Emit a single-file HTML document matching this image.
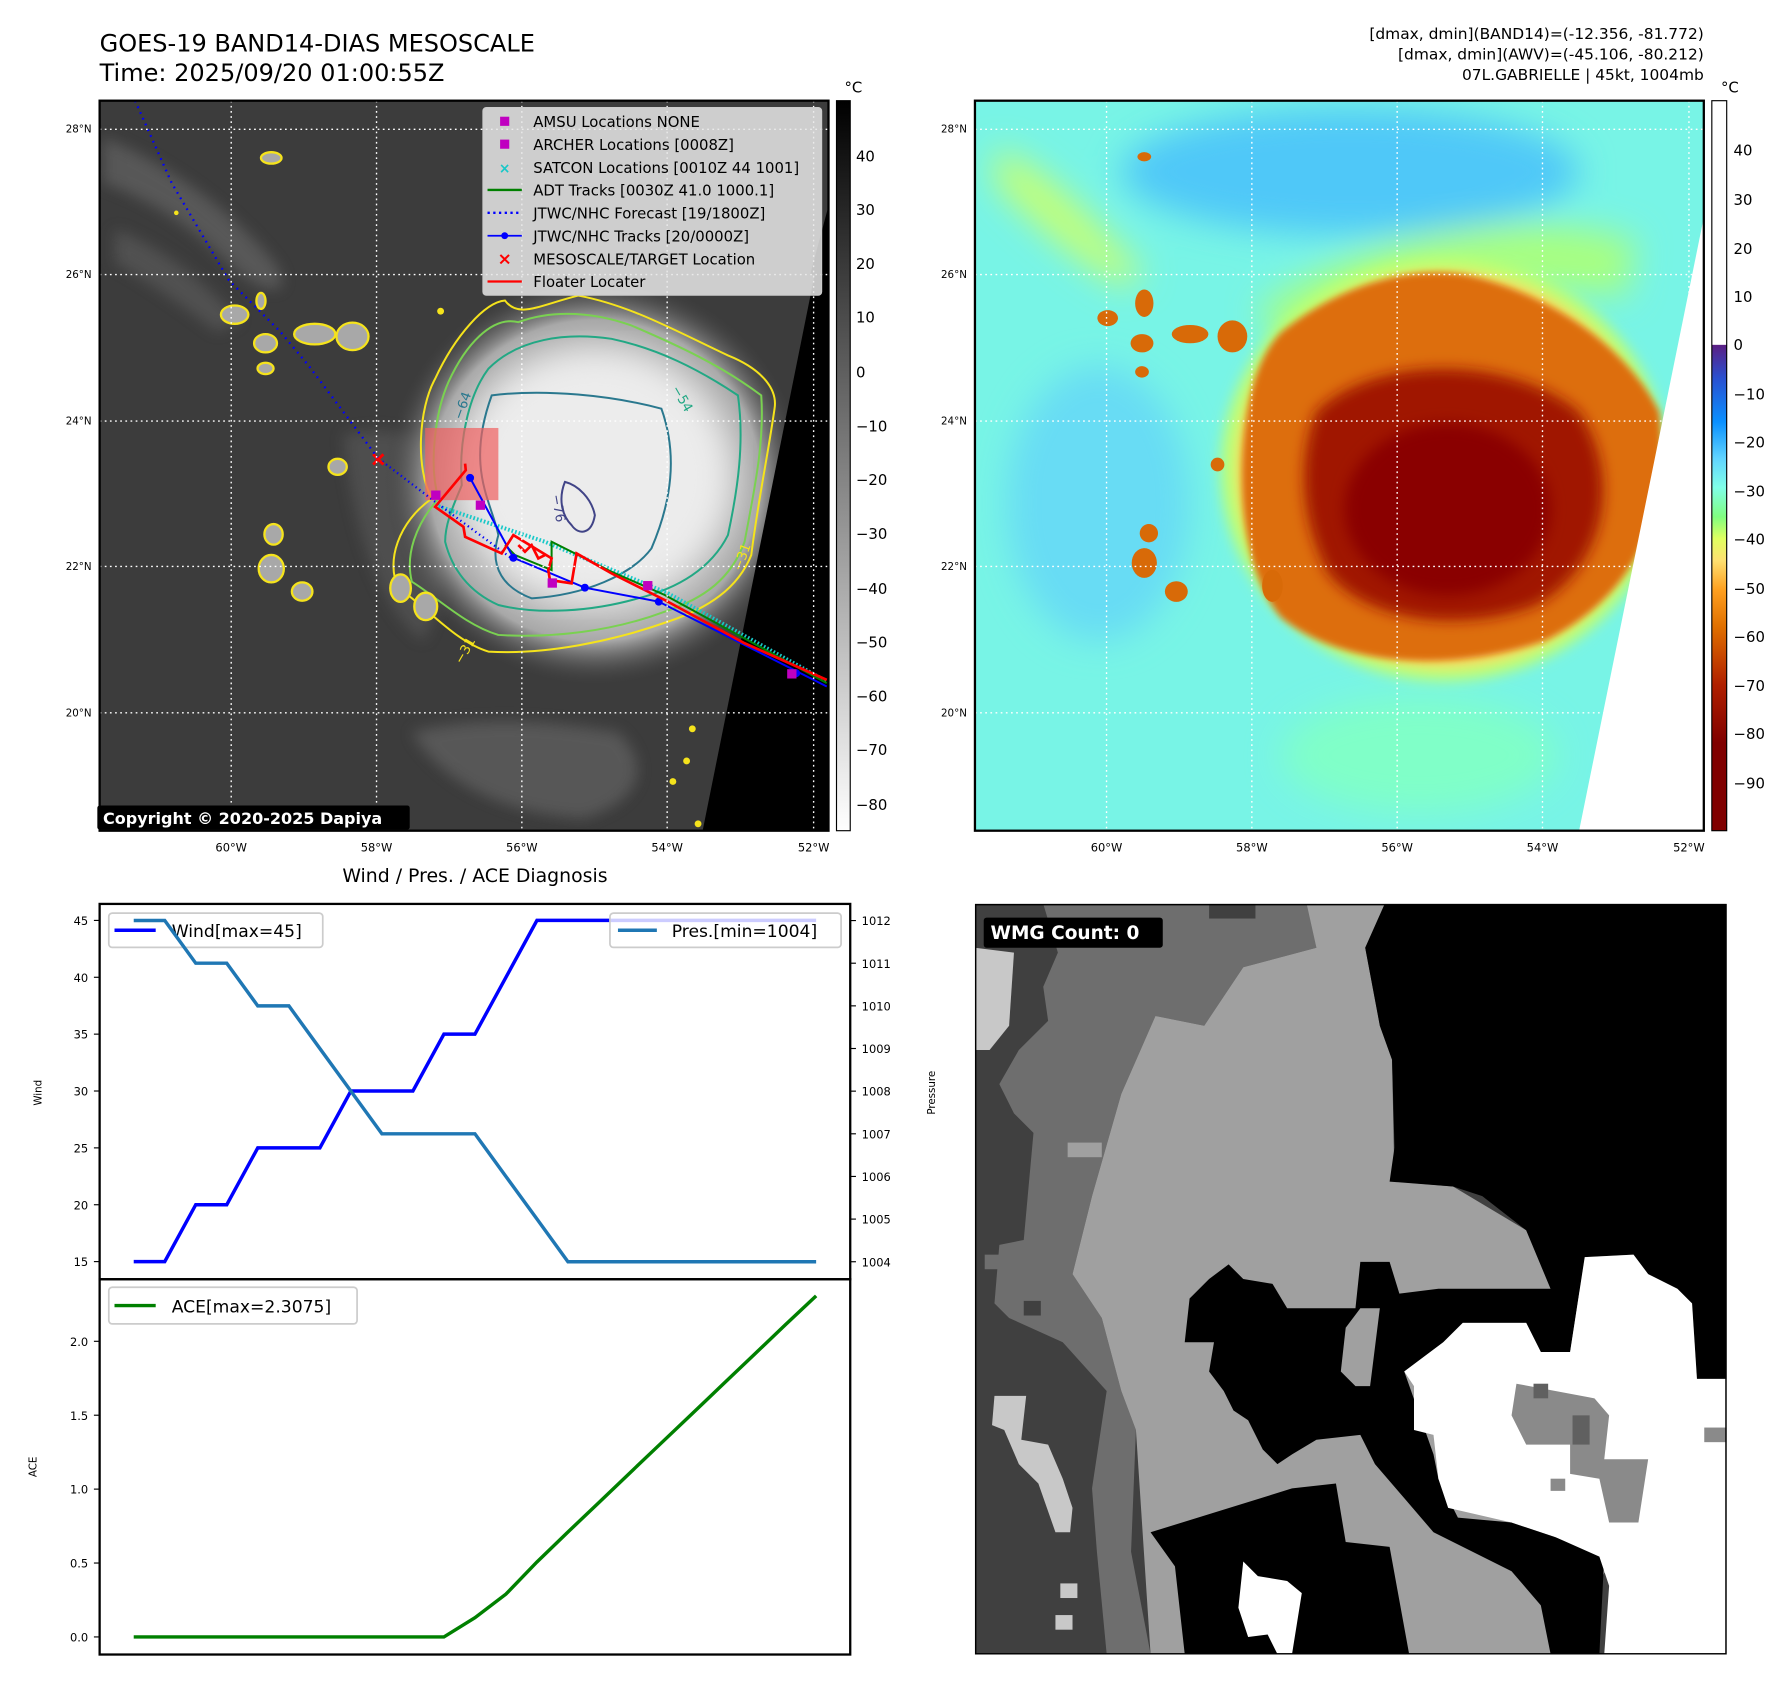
<!DOCTYPE html>
<html><head><meta charset="utf-8"><style>
html,body{margin:0;padding:0;background:#fff;}
svg{display:block;font-family:"DejaVu Sans","Liberation Sans",sans-serif;}
</style></head><body>
<svg id="root" width="1792" height="1690" viewBox="0 0 1566 1477" xmlns="http://www.w3.org/2000/svg">
<defs>
<filter id="blur6"><feGaussianBlur stdDeviation="6"/></filter>
<filter id="blur3"><feGaussianBlur stdDeviation="3"/></filter>
<filter id="blur15"><feGaussianBlur stdDeviation="15"/></filter>
<radialGradient id="stormL" cx="0.5" cy="0.5" r="0.5">
<stop offset="0" stop-color="#f0f0f0"/><stop offset="0.5" stop-color="#dcdcdc"/><stop offset="0.78" stop-color="#a8a8a8"/><stop offset="1" stop-color="#3c3c3c" stop-opacity="0"/>
</radialGradient>
<linearGradient id="cbL" x1="0" y1="0" x2="0" y2="1"><stop offset="0" stop-color="#000"/><stop offset="1" stop-color="#fff"/></linearGradient>
<linearGradient id="cbR" x1="0" y1="0" x2="0" y2="1">
<stop offset="0" stop-color="#fff"/><stop offset="0.334" stop-color="#fff"/>
<stop offset="0.335" stop-color="#5a1f84"/><stop offset="0.38" stop-color="#2a50d0"/>
<stop offset="0.44" stop-color="#0a90ff"/><stop offset="0.49" stop-color="#60d4ff"/>
<stop offset="0.53" stop-color="#80ffe8"/><stop offset="0.57" stop-color="#80ff80"/>
<stop offset="0.6" stop-color="#e0ff60"/><stop offset="0.63" stop-color="#ffe070"/>
<stop offset="0.67" stop-color="#ffa020"/><stop offset="0.72" stop-color="#e07000"/>
<stop offset="0.8" stop-color="#b02000"/><stop offset="0.88" stop-color="#800000"/><stop offset="1" stop-color="#800000"/>
</linearGradient>
<clipPath id="clipL"><rect x="87" y="88" width="637" height="638"/></clipPath>
<clipPath id="clipR"><rect x="852" y="88" width="637" height="638"/></clipPath>
<clipPath id="clipC1"><rect x="87" y="790" width="656" height="328"/></clipPath>
<clipPath id="clipC2"><rect x="87" y="1118" width="656" height="328"/></clipPath>
</defs>

<text x="87" y="45" font-size="21">GOES-19 BAND14-DIAS MESOSCALE</text>
<text x="87" y="71" font-size="21">Time: 2025/09/20 01:00:55Z</text>
<g font-size="13.5" text-anchor="end">
<text x="1489" y="34">[dmax, dmin](BAND14)=(-12.356, -81.772)</text>
<text x="1489" y="52">[dmax, dmin](AWV)=(-45.106, -80.212)</text>
<text x="1489" y="70">07L.GABRIELLE | 45kt, 1004mb</text>
</g>

<g clip-path="url(#clipL)">
<rect x="87" y="88" width="637" height="638" fill="#3c3c3c"/>
<g filter="url(#blur6)" opacity="0.6">
<path d="M90,120 C140,140 200,180 240,230 C260,260 230,260 200,230 C160,190 120,170 90,160Z" fill="#6a6a6a"/>
<path d="M100,200 C150,220 180,250 210,280 L190,290 C150,260 120,240 100,230Z" fill="#5e5e5e"/>
<path d="M300,380 C340,370 370,380 390,400 C400,460 390,520 370,560 C340,540 310,480 300,380Z" fill="#5a5a5a"/>
<path d="M360,640 C420,625 480,630 540,640 C570,670 560,700 510,715 C450,712 390,690 360,640Z" fill="#6a6a6a"/>
</g>
<ellipse cx="520" cy="420" rx="185" ry="180" fill="url(#stormL)"/>
<ellipse cx="520" cy="415" rx="115" ry="105" fill="#ececec" filter="url(#blur15)"/>
<polygon points="724,180 724,726 614,726" fill="#000"/>
<polygon points="708,240 724,180 724,240" fill="#000"/>
</g>
<svg x="330.8" y="235" width="391.7" height="365.6" viewBox="0 0 1347 1257" overflow="visible">
<g fill="none" stroke-width="6">
<path d="M160,690 C110,600 120,420 170,330 C230,200 320,100 380,95 C420,150 480,110 600,80 C760,110 900,190 1050,260 C1150,300 1200,360 1190,420 C1170,560 1140,700 1120,860 C1080,960 990,1020 870,1060 C700,1120 500,1160 330,1150 C230,1120 150,1020 60,960 C20,880 60,760 160,690Z" stroke="#f5e31c"/>
<path d="M180,690 C150,590 170,430 210,340 C260,230 340,140 420,160 C500,130 620,120 760,170 C900,230 1030,290 1150,380 C1160,520 1130,660 1100,820 C1060,930 980,990 860,1030 C700,1090 520,1110 360,1100 C260,1070 180,990 100,940 C80,860 110,770 180,690Z" stroke="#7ad151"/>
<path d="M250,650 C240,520 270,380 330,300 C420,210 560,190 700,210 C840,240 960,300 1080,380 C1100,520 1080,660 1050,800 C1000,900 900,960 780,990 C640,1030 480,1040 360,1010 C270,970 220,900 200,820 C200,760 230,700 250,650Z" stroke="#22a884"/>
<path d="M340,380 C500,360 700,380 850,420 C900,560 880,700 820,840 C760,920 620,980 460,990 C380,960 330,900 360,800 C340,700 260,600 340,380Z" stroke="#2a788e"/>
<path d="M560,640 C600,650 640,690 650,740 C640,800 600,800 580,770 C550,740 540,690 560,640Z" stroke="#414487"/>
<rect x="140" y="478" width="220" height="217" fill="#f06060" fill-opacity="0.7" stroke="none"/>
</g>
<g font-size="40">
<text x="250" y="455" fill="#2a788e" transform="rotate(-70 250 455)">−64</text>
<text x="880" y="360" fill="#22a884" transform="rotate(60 880 360)">−54</text>
<text x="520" y="680" fill="#414487" transform="rotate(80 520 680)">−76</text>
<text x="1090" y="910" fill="#f5e31c" transform="rotate(-70 1090 910)">−31</text>
<text x="250" y="1190" fill="#f5e31c" transform="rotate(-60 250 1190)">−31</text>
</g>
<polyline points="170,710 500,820 870,975 1347,1240" fill="none" stroke="#18c8c8" stroke-width="12" stroke-dasharray="5 6"/>
<polyline points="380,830 410,860 520,905 520,820 700,910 860,980 1347,1245" fill="none" stroke="#008000" stroke-width="6"/>
<polyline points="0,570 170,700 400,870" fill="none" stroke="#0000ff" stroke-width="7" stroke-dasharray="4 10"/>
<polyline points="275,628 405,868 620,958 842,1000 1347,1255" fill="none" stroke="#0000ff" stroke-width="6"/>
<g fill="#0000ff"><circle cx="275" cy="628" r="12"/><circle cx="405" cy="868" r="12"/><circle cx="620" cy="958" r="12"/><circle cx="842" cy="1000" r="12"/><circle cx="1255" cy="1215" r="12"/></g>
<polyline points="260,585 262,605 170,715 255,775 260,805 370,855 405,800 520,870 510,905 515,935 580,945 595,855 700,915 860,995 1100,1125 1347,1235" fill="none" stroke="#ff0000" stroke-width="8"/>
<polyline points="420,830 440,850 460,830 480,870 500,860" fill="none" stroke="#ff0000" stroke-width="8"/>
<g fill="#c000c0"><rect x="158" y="666" width="28" height="28"/><rect x="292" y="696" width="28" height="28"/><rect x="508" y="930" width="28" height="28"/><rect x="795" y="938" width="28" height="28"/><rect x="1228" y="1203" width="28" height="28"/></g>
</svg>
<g fill="#a8a8a8" stroke="#f5e31c" stroke-width="2">
<ellipse cx="237" cy="138" rx="9" ry="5"/>
<ellipse cx="205" cy="275" rx="12" ry="8"/><ellipse cx="232" cy="300" rx="10" ry="8"/>
<ellipse cx="275" cy="292" rx="18" ry="9"/><ellipse cx="308" cy="294" rx="14" ry="12"/>
<ellipse cx="228" cy="263" rx="4" ry="7"/><ellipse cx="232" cy="322" rx="7" ry="5"/>
<ellipse cx="295" cy="408" rx="8" ry="7"/>
<ellipse cx="239" cy="467" rx="8" ry="9"/><ellipse cx="237" cy="497" rx="11" ry="12"/><ellipse cx="264" cy="517" rx="9" ry="8"/>
<ellipse cx="350" cy="514" rx="9" ry="12"/><ellipse cx="372" cy="530" rx="10" ry="12"/>
</g>
<g fill="#f5e31c"><circle cx="154" cy="186" r="2"/><circle cx="605" cy="637" r="3"/><circle cx="600" cy="665" r="3"/><circle cx="588" cy="683" r="3"/><circle cx="610" cy="720" r="3"/><circle cx="385" cy="272" r="3"/></g>
<g stroke="#ff0000" stroke-width="2.5"><line x1="326" y1="397" x2="335" y2="406"/><line x1="335" y1="397" x2="326" y2="406"/></g>
<polyline points="118,88 150,160 200,245 245,290 270,320 300,360 330,400" fill="none" stroke="#0000ff" stroke-width="2" stroke-dasharray="1.5 4"/>
<g stroke="#fff" stroke-width="1.2" stroke-dasharray="1.5 3" clip-path="url(#clipL)">
<line x1="87" x2="724" y1="113" y2="113"/><line x1="87" x2="724" y1="240" y2="240"/><line x1="87" x2="724" y1="368" y2="368"/><line x1="87" x2="724" y1="495" y2="495"/><line x1="87" x2="724" y1="623" y2="623"/>
<line y1="88" y2="726" x1="202" x2="202"/><line y1="88" y2="726" x1="329" x2="329"/><line y1="88" y2="726" x1="456" x2="456"/><line y1="88" y2="726" x1="583" x2="583"/><line y1="88" y2="726" x1="711" x2="711"/>
</g>
<g>
<rect x="422" y="94" width="296" height="164" rx="3" fill="#e8e8e8" fill-opacity="0.85" stroke="#ccc"/>
<g font-size="13">
<rect x="437" y="102" width="8" height="8" fill="#c000c0"/><text x="466" y="111">AMSU Locations NONE</text>
<rect x="437" y="122" width="8" height="8" fill="#c000c0"/><text x="466" y="131">ARCHER Locations [0008Z]</text>
<text x="441" y="151" fill="#18c8c8" text-anchor="middle" font-weight="bold" font-size="12">×</text><text x="466" y="151">SATCON Locations [0010Z 44 1001]</text>
<line x1="426" x2="456" y1="166" y2="166" stroke="#008000" stroke-width="2"/><text x="466" y="171">ADT Tracks [0030Z 41.0 1000.1]</text>
<line x1="426" x2="456" y1="186" y2="186" stroke="#0000ff" stroke-width="2" stroke-dasharray="2 3"/><text x="466" y="191">JTWC/NHC Forecast [19/1800Z]</text>
<line x1="426" x2="456" y1="206" y2="206" stroke="#0000ff" stroke-width="1.5"/><circle cx="441" cy="206" r="3" fill="#0000ff"/><text x="466" y="211">JTWC/NHC Tracks [20/0000Z]</text>
<text x="441" y="231" fill="#ff0000" text-anchor="middle" font-weight="bold" font-size="15">×</text><text x="466" y="231">MESOSCALE/TARGET Location</text>
<line x1="426" x2="456" y1="246" y2="246" stroke="#ff0000" stroke-width="2"/><text x="466" y="251">Floater Locater</text>
</g></g>
<rect x="87" y="88" width="637" height="638" fill="none" stroke="#000" stroke-width="2"/>
<rect x="85" y="704" width="273" height="21" rx="2" fill="#000"/>
<text x="90" y="720" font-size="14" font-weight="bold" fill="#fff">Copyright © 2020-2025 Dapiya</text>
<g font-size="9" text-anchor="end">
<text x="80" y="116">28°N</text><text x="80" y="243">26°N</text><text x="80" y="371">24°N</text><text x="80" y="498">22°N</text><text x="80" y="626">20°N</text></g>
<g font-size="10" text-anchor="middle">
<text x="202" y="744">60°W</text><text x="329" y="744">58°W</text><text x="456" y="744">56°W</text><text x="583" y="744">54°W</text><text x="711" y="744">52°W</text></g>
<rect x="731" y="88" width="12" height="638" fill="url(#cbL)" stroke="#000" stroke-width="1"/>
<text x="738" y="81" font-size="13">°C</text>
<g font-size="13">
<text x="748" y="141">40</text><text x="748" y="188">30</text><text x="748" y="235">20</text><text x="748" y="282">10</text><text x="748" y="330">0</text><text x="748" y="377">−10</text><text x="748" y="424">−20</text><text x="748" y="471">−30</text><text x="748" y="519">−40</text><text x="748" y="566">−50</text><text x="748" y="613">−60</text><text x="748" y="660">−70</text><text x="748" y="708">−80</text></g>

<g clip-path="url(#clipR)">
<rect x="852" y="88" width="637" height="638" fill="#78f4e6"/>
<g filter="url(#blur15)">
<ellipse cx="1180" cy="150" rx="200" ry="55" fill="#50c8f8"/>
<ellipse cx="960" cy="440" rx="80" ry="120" fill="#68dcf4"/>
<ellipse cx="1240" cy="660" rx="120" ry="50" fill="#80ffc8"/>
<path d="M1100,270 C1200,200 1320,180 1430,210 L1420,260 C1320,240 1200,260 1130,320Z" fill="#a8ff80"/>
<path d="M870,130 C920,150 960,200 1000,240 L980,250 C930,220 890,180 870,160Z" fill="#c8ff70"/>
</g>
<g filter="url(#blur6)">
<ellipse cx="1262" cy="410" rx="195" ry="185" fill="#c0ff70"/>
<ellipse cx="1262" cy="410" rx="180" ry="172" fill="#ffd060"/>
</g>
<path d="M1120,290 C1170,250 1230,232 1280,240 C1350,255 1420,300 1450,360 C1460,450 1430,520 1350,560 C1260,590 1170,580 1120,540 C1085,500 1080,420 1090,360 C1095,330 1105,305 1120,290Z" fill="#dd6e08" filter="url(#blur3)"/>
<path d="M1150,360 C1200,310 1320,310 1380,360 C1420,420 1400,500 1340,530 C1270,555 1190,540 1160,500 C1135,450 1135,400 1150,360Z" fill="#a01800" filter="url(#blur6)"/>
<ellipse cx="1265" cy="445" rx="90" ry="75" fill="#8a0000" filter="url(#blur6)"/>
<g fill="#d86a08">
<ellipse cx="1000" cy="265" rx="8" ry="12"/><ellipse cx="968" cy="278" rx="9" ry="7"/>
<ellipse cx="1040" cy="292" rx="16" ry="8"/><ellipse cx="1077" cy="294" rx="13" ry="14"/>
<ellipse cx="998" cy="300" rx="10" ry="8"/><ellipse cx="998" cy="325" rx="6" ry="5"/>
<ellipse cx="1064" cy="406" rx="6" ry="6"/>
<ellipse cx="1004" cy="466" rx="8" ry="8"/><ellipse cx="1000" cy="492" rx="11" ry="13"/><ellipse cx="1028" cy="517" rx="10" ry="9"/>
<ellipse cx="1112" cy="512" rx="9" ry="14"/>
</g>
<ellipse cx="1000" cy="137" rx="6" ry="4" fill="#d86a08"/>
<polygon points="1489,190 1489,726 1380,726" fill="#fff"/>
</g>
<g stroke="#fff" stroke-width="1.2" stroke-dasharray="1.5 3" clip-path="url(#clipR)">
<line x1="852" x2="1489" y1="113" y2="113"/><line x1="852" x2="1489" y1="240" y2="240"/><line x1="852" x2="1489" y1="368" y2="368"/><line x1="852" x2="1489" y1="495" y2="495"/><line x1="852" x2="1489" y1="623" y2="623"/>
<line y1="88" y2="726" x1="967" x2="967"/><line y1="88" y2="726" x1="1094" x2="1094"/><line y1="88" y2="726" x1="1221" x2="1221"/><line y1="88" y2="726" x1="1348" x2="1348"/><line y1="88" y2="726" x1="1476" x2="1476"/>
</g>
<rect x="852" y="88" width="637" height="638" fill="none" stroke="#000" stroke-width="2"/>
<g font-size="9" text-anchor="end">
<text x="845" y="116">28°N</text><text x="845" y="243">26°N</text><text x="845" y="371">24°N</text><text x="845" y="498">22°N</text><text x="845" y="626">20°N</text></g>
<g font-size="10" text-anchor="middle">
<text x="967" y="744">60°W</text><text x="1094" y="744">58°W</text><text x="1221" y="744">56°W</text><text x="1348" y="744">54°W</text><text x="1476" y="744">52°W</text></g>
<rect x="1496" y="88" width="13" height="638" fill="url(#cbR)" stroke="#000" stroke-width="1"/>
<text x="1504" y="81" font-size="13">°C</text>
<g font-size="13">
<text x="1515" y="136">40</text><text x="1515" y="179">30</text><text x="1515" y="222">20</text><text x="1515" y="264">10</text><text x="1515" y="306">0</text><text x="1515" y="349">−10</text><text x="1515" y="391">−20</text><text x="1515" y="434">−30</text><text x="1515" y="476">−40</text><text x="1515" y="519">−50</text><text x="1515" y="561">−60</text><text x="1515" y="604">−70</text><text x="1515" y="646">−80</text><text x="1515" y="689">−90</text></g>

<svg x="852" y="790" width="657" height="656" viewBox="0 0 1541 1541" preserveAspectRatio="none">
<rect x="0" y="0" width="1541" height="1541" fill="#404040"/>
<polygon fill="#6e6e6e" points="140,0 700,0 700,90 550,130 470,250 370,230 300,390 240,600 200,760 260,850 300,1000 330,1080 320,1330 360,1540 270,1540 250,1330 240,1200 270,1000 180,900 70,850 40,820 50,700 100,690 120,470 80,430 50,370 90,300 150,240 140,170 170,100"/>
<polygon fill="#a0a0a0" points="680,0 840,0 800,90 830,250 855,320 860,570 980,580 1130,670 1180,790 1330,800 1330,1300 1200,1540 360,1540 330,1080 300,1000 260,850 200,760 240,600 300,390 370,230 470,250 550,130 700,90"/>
<polygon fill="#000" points="840,0 1541,0 1541,975 1480,975 1470,820 1380,760 1350,720 1250,725 1220,920 1160,920 1130,860 1000,860 960,900 920,930 880,960 940,1130 950,1180 990,1260 1100,1270 1190,1300 1290,1340 1280,1540 1180,1540 1160,1440 1100,1370 1020,1330 940,1290 880,1220 820,1150 790,1090 700,1100 650,1130 620,1150 590,1120 560,1060 530,1040 510,1000 480,960 490,900 430,900 440,810 480,770 520,740 550,770 610,780 640,830 780,830 790,735 850,735 870,800 950,790 1180,790 1130,670 1040,600 980,580 850,570 860,500 855,320 830,250 800,90"/>
<polygon fill="#a0a0a0" points="760,870 790,830 830,830 810,990 780,990 750,960"/>
<polygon fill="#000" points="360,1290 650,1200 740,1190 760,1310 850,1320 890,1540 430,1540 410,1360"/>
<polygon fill="#fff" points="880,960 920,930 960,900 1000,860 1130,860 1160,920 1220,920 1250,725 1350,720 1380,760 1440,790 1470,820 1480,975 1541,975 1541,1540 1290,1540 1300,1400 1280,1340 1190,1300 1100,1270 970,1240 950,1180 940,1090 900,1080 900,990"/>
<polygon fill="#8a8a8a" points="1110,985 1270,1015 1300,1050 1290,1140 1380,1140 1360,1270 1300,1270 1280,1180 1220,1170 1220,1110 1130,1110 1100,1050"/>
<rect x="1145" y="985" width="30" height="30" fill="#606060"/><rect x="1225" y="1050" width="35" height="60" fill="#606060"/>
<rect x="1180" y="1180" width="30" height="25" fill="#8a8a8a"/><rect x="1495" y="1075" width="46" height="30" fill="#8a8a8a"/>
<polygon fill="#fff" points="550,1350 580,1380 640,1390 670,1415 650,1540 620,1540 600,1500 560,1505 540,1445"/>
<g fill="#c8c8c8"><polygon points="0,90 80,100 70,250 30,300 0,300"/><polygon points="40,1010 105,1010 95,1100 150,1110 180,1180 200,1240 195,1290 165,1290 130,1190 90,1150 60,1080 35,1070"/><rect x="175" y="1395" width="35" height="30"/><rect x="165" y="1460" width="35" height="30"/></g>
<rect x="190" y="490" width="70" height="30" fill="#a0a0a0"/><rect x="100" y="815" width="35" height="30" fill="#404040"/><rect x="20" y="720" width="35" height="30" fill="#6e6e6e"/>
<rect x="480" y="0" width="95" height="30" fill="#404040"/>
<rect x="18" y="28" width="367" height="62" rx="6" fill="#000"/>
<text x="32" y="72" font-size="38" font-weight="bold" fill="#fff">WMG Count: 0</text>
<rect x="1" y="1" width="1539" height="1539" fill="none" stroke="#000" stroke-width="4"/>
</svg>

<text x="415" y="771" font-size="16.5" text-anchor="middle">Wind / Pres. / ACE Diagnosis</text>
<g id="chart"></g>
</svg>
<script>
const windVals = [15,15,20,20,25,25,25,30,30,30,35,35,40,45,45,45,45,45,45,45,45,45,45];
const presVals = [1012,1012,1011,1011,1010,1010,1009,1008,1007,1007,1007,1007,1006,1005,1004,1004,1004,1004,1004,1004,1004,1004,1004];
const aceVals = [0,0,0,0,0,0,0,0,0,0,0,0.13,0.29,0.507,0.71,0.91,1.11,1.31,1.51,1.71,1.91,2.11,2.3075];
const windTicks = [15,20,25,30,35,40,45];
const presTicks = [1004,1005,1006,1007,1008,1009,1010,1011,1012];
const aceTicks = [0.0,0.5,1.0,1.5,2.0];
const aceTickLabels = ["0.0","0.5","1.0","1.5","2.0"];

const NS = "http://www.w3.org/2000/svg";
const g = document.getElementById('chart');
const L = 87, R = 743, T1 = 790, B1 = 1118, T2 = 1118, B2 = 1446;
const n = windVals.length;
function xS(i){ return L + (i + 0.05*(n-1)) / ((n-1)*1.1) * (R - L); }
function yWind(v){ const lo=13.45, hi=46.45; return B1 - (v-lo)/(hi-lo)*(B1-T1); }
function yPres(v){ const lo=1003.59, hi=1012.39; return B1 - (v-lo)/(hi-lo)*(B1-T1); }
function yAce(v){ const lo=-0.119, hi=2.42; return B2 - (v-lo)/(hi-lo)*(B2-T2); }
function mk(tag, attrs, parent){ const e=document.createElementNS(NS,tag); for(const k in attrs) e.setAttribute(k, attrs[k]); (parent||g).appendChild(e); return e; }
function pts(vals, yf){ return vals.map((v,i)=>xS(i).toFixed(1)+','+yf(v).toFixed(1)).join(' '); }

const f1 = mk('rect',{x:L,y:T1,width:R-L,height:B1-T1,fill:'#fff'});


const f2 = mk('rect',{x:L,y:T2,width:R-L,height:B2-T2,fill:'#fff'});



windTicks.forEach(v=>{
  const y=yWind(v);
  mk('line',{x1:L-5,x2:L,y1:y,y2:y,stroke:'#000','stroke-width':1});
  const t=mk('text',{x:L-10,y:y+4,'font-size':10,'text-anchor':'end'}); t.textContent=v;
  
  
});
presTicks.forEach(v=>{
  const y=yPres(v);
  mk('line',{x1:R,x2:R+5,y1:y,y2:y,stroke:'#000','stroke-width':1});
  const t=mk('text',{x:R+10,y:y+4,'font-size':10}); t.textContent=v;
  
  
});
aceTicks.forEach((v,i)=>{
  const y=yAce(v);
  mk('line',{x1:L-5,x2:L,y1:y,y2:y,stroke:'#000','stroke-width':1});
  const t=mk('text',{x:L-10,y:y+4,'font-size':10,'text-anchor':'end'}); t.textContent=aceTickLabels[i];
  
  
});
const yl1=mk('text',{x:0,y:0,'font-size':9,'text-anchor':'middle',transform:'translate(36,955) rotate(-90)'}); yl1.textContent='Wind';


const yl2=mk('text',{x:0,y:0,'font-size':9,'text-anchor':'middle',transform:'translate(817,955) rotate(-90)'}); yl2.textContent='Pressure';


const yl3=mk('text',{x:0,y:0,'font-size':9,'text-anchor':'middle',transform:'translate(32,1282) rotate(-90)'}); yl3.textContent='ACE';



const wl=mk('polyline',{points:pts(windVals,yWind),fill:'none',stroke:'#0000ff','stroke-width':3,'clip-path':'url(#clipC1)'});


const wlg=mk('g',{});


mk('rect',{x:95,y:798,width:187,height:30,rx:3,fill:'#fff','fill-opacity':0.8,stroke:'#ccc','stroke-width':1.5},wlg);
mk('line',{x1:100,x2:136,y1:813,y2:813,stroke:'#0000ff','stroke-width':3},wlg);
const wt=mk('text',{x:150,y:819,'font-size':15},wlg); wt.textContent='Wind[max=45]';
const pl=mk('polyline',{points:pts(presVals,yPres),fill:'none',stroke:'#1f77b4','stroke-width':3,'clip-path':'url(#clipC1)'});


const plg=mk('g',{});


mk('rect',{x:533,y:798,width:202,height:30,rx:3,fill:'#fff','fill-opacity':0.8,stroke:'#ccc','stroke-width':1.5},plg);
mk('line',{x1:540,x2:574,y1:813,y2:813,stroke:'#1f77b4','stroke-width':3},plg);
const pt=mk('text',{x:587,y:819,'font-size':15},plg); pt.textContent='Pres.[min=1004]';
const al=mk('polyline',{points:pts(aceVals,yAce),fill:'none',stroke:'#008000','stroke-width':3,'clip-path':'url(#clipC2)'});


const alg=mk('g',{});


mk('rect',{x:95,y:1125,width:217,height:32,rx:3,fill:'#fff','fill-opacity':0.8,stroke:'#ccc','stroke-width':1.5},alg);
mk('line',{x1:100,x2:136,y1:1141,y2:1141,stroke:'#008000','stroke-width':3},alg);
const at=mk('text',{x:150,y:1147,'font-size':15},alg); at.textContent='ACE[max=2.3075]';
mk('rect',{x:L,y:T1,width:R-L,height:B1-T1,fill:'none',stroke:'#000','stroke-width':2});
mk('rect',{x:L,y:T2,width:R-L,height:B2-T2,fill:'none',stroke:'#000','stroke-width':2});
</script>
</body></html>
